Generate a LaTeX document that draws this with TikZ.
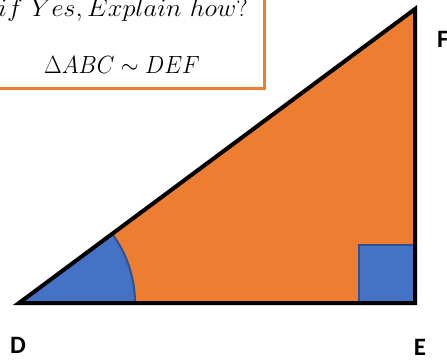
\documentclass[tikz,border=0pt]{standalone}
\usepackage{fontspec}
\newfontfamily\labfont{Carlito}
\definecolor{orfill}{HTML}{ED7D31}
\definecolor{blfill}{HTML}{4472C4}
\definecolor{bldraw}{HTML}{2F528F}
\tikzset{
  vlabel/.style={font=\labfont\bfseries\fontsize{25}{30}\selectfont, inner sep=0pt},
  mathtxt/.style={font=\fontsize{26}{30}\selectfont, inner sep=0pt},
  bluepart/.style={fill=blfill, draw=bldraw, line width=2pt},
}
\begin{document}
\begin{tikzpicture}[x=1pt,y=-1pt]
\useasboundingbox (0,0) rectangle (447,360);
\clip (0,0) rectangle (447,360);
% question box
\node[draw=orfill, line width=3pt, fill=white, minimum width=276pt, minimum height=100pt, anchor=south east, inner sep=0pt] (box) at (265.5,89.5) {};
\node[mathtxt, anchor=base west] (q1) at (-2,16) {\scalebox{1.06}[1]{$if\ Yes,Explain\ how?$}};
\node[mathtxt, anchor=base] (q2) at (122,73) {\scalebox{0.92}[1]{$\Delta ABC\sim DEF$}};
% triangle
\coordinate (D) at (19,303);
\coordinate (E) at (415,303);
\coordinate (F) at (415,9);
\fill[orfill] (D) -- (E) -- (F) -- cycle;
% angle sector at D
\draw[bluepart] (D) -- ++(116,0) arc[start angle=0, end angle=-36.6, radius=116] -- cycle;
% right angle mark at E
\draw[bluepart] (E) ++(-56,-58) rectangle (E);
% outline
\draw[line width=4pt, line join=miter] (D) -- (E) -- (F) -- cycle;
% labels
\node[vlabel] (lD) at (18,345) {D};
\node[vlabel] (lE) at (420,347) {E};
\node[vlabel, anchor=west] (lF) at (437,39) {F};
\end{tikzpicture}
\end{document}
